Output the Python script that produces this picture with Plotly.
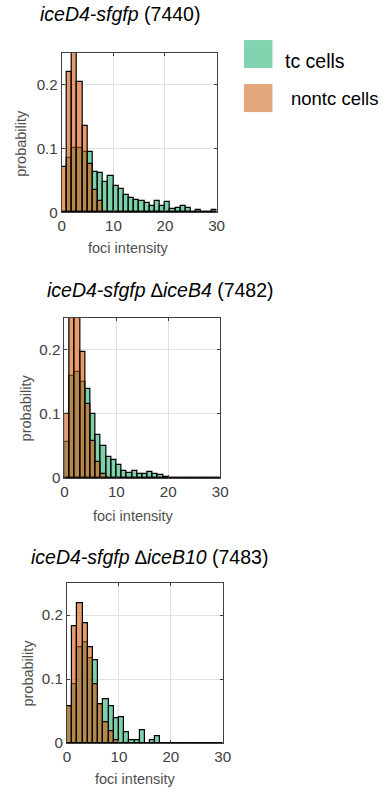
import plotly.graph_objects as go

# Histogram bins: width 1, from 0 to 30
bin_edges = list(range(0, 31))
bin_centers = [e + 0.5 for e in bin_edges[:-1]]

# Probability per bin, strain 7440
tc_7440 = [0.000, 0.085, 0.100, 0.100, 0.095, 0.094, 0.063, 0.061, 0.047, 0.056,
           0.041, 0.036, 0.027, 0.022, 0.019, 0.017, 0.014, 0.010, 0.017, 0.010,
           0.016, 0.005, 0.007, 0.009, 0.006, 0.000, 0.003, 0.000, 0.000, 0.003]
nontc_7440 = [0.071, 0.220, 0.255, 0.205, 0.135, 0.076, 0.034, 0.018, 0.000, 0.000,
              0.000, 0.000, 0.000, 0.000, 0.000, 0.000, 0.000, 0.000, 0.000, 0.000,
              0.000, 0.000, 0.000, 0.000, 0.000, 0.000, 0.000, 0.000, 0.000, 0.000]

# Probability per bin, strain 7482 (delta iceB4)
tc_7482 = [0.056, 0.160, 0.165, 0.150, 0.139, 0.099, 0.067, 0.049, 0.032, 0.027,
           0.020, 0.011, 0.007, 0.010, 0.006, 0.006, 0.009, 0.006, 0.004, 0.0015,
           0.000, 0.000, 0.000, 0.000, 0.000, 0.000, 0.000, 0.000, 0.000, 0.000]
nontc_7482 = [0.099, 0.255, 0.258, 0.197, 0.115, 0.058, 0.025, 0.006, 0.000, 0.000,
              0.000, 0.000, 0.000, 0.000, 0.000, 0.000, 0.000, 0.000, 0.000, 0.000,
              0.000, 0.000, 0.000, 0.000, 0.000, 0.000, 0.000, 0.000, 0.000, 0.000]

# Probability per bin, strain 7483 (delta iceB10)
tc_7483 = [0.057, 0.092, 0.150, 0.158, 0.132, 0.130, 0.060, 0.068, 0.058, 0.039,
           0.041, 0.017, 0.004, 0.004, 0.020, 0.000, 0.004, 0.010, 0.000, 0.000,
           0.000, 0.000, 0.000, 0.000, 0.000, 0.000, 0.000, 0.000, 0.000, 0.000]
nontc_7483 = [0.057, 0.182, 0.219, 0.187, 0.150, 0.092, 0.060, 0.032, 0.019, 0.005,
              0.000, 0.000, 0.000, 0.000, 0.000, 0.000, 0.000, 0.000, 0.000, 0.000,
              0.000, 0.000, 0.000, 0.000, 0.000, 0.000, 0.000, 0.000, 0.000, 0.000]

panel_titles = [
    "<i>iceD4-sfgfp</i> (7440)",
    "<i>iceD4-sfgfp \u2206iceB4</i> (7482)",
    "<i>iceD4-sfgfp \u2206iceB10</i> (7483)",
]
series_names = ["tc cells", "nontc cells"]
x_ticks = [0, 10, 20, 30]
y_ticks = [0, 0.1, 0.2]
y_tick_labels = ["0", "0.1", "0.2"]
x_title = "foci intensity"
y_title = "probability"

TC_FILL = "rgba(38,177,113,0.6)"
NONTC_FILL = "rgba(213,88,13,0.6)"
TC_KEY = "rgb(128,212,176)"
NONTC_KEY = "rgb(227,166,124)"

# page scale: layout pixels per design pixel
PX = 1.011
W, H = round(383 * PX), round(789 * PX)
FONT = "Liberation Sans, Arial, sans-serif"

# axes boxes in design pixels: (left, right, top, bottom)
boxes = [(59, 217, 53, 212), (61.7, 220.7, 317.7, 477.3), (64.3, 223.3, 582.7, 742.3)]
title_pos = [(118.5, 13.5), (159.7, 290), (148.5, 556.7)]
xtitle_pos = [(127, 248), (131.7, 516), (134.5, 778)]
ytitle_pos = [(17, 143), (22.5, 408), (25, 672.5)]
data = [(tc_7440, nontc_7440), (tc_7482, nontc_7482), (tc_7483, nontc_7483)]


def px_x(v):
    return v * PX / W


def px_y(v):
    return 1 - v * PX / H


fig = go.Figure()
layout = dict(
    width=W, height=H, margin=dict(l=0, r=0, t=0, b=0),
    paper_bgcolor="white", plot_bgcolor="white",
    barmode="overlay", bargap=0, showlegend=False,
    font=dict(family=FONT, color="#404040"),
    annotations=[], shapes=[],
)

for i, ((tc, nontc), (l, r, t, b)) in enumerate(zip(data, boxes)):
    sfx = "" if i == 0 else str(i + 1)
    xa, ya = "x" + sfx, "y" + sfx
    for vals, fill, name in ((tc, TC_FILL, series_names[0]), (nontc, NONTC_FILL, series_names[1])):
        fig.add_trace(go.Bar(
            x=bin_centers, y=vals, width=1, name=name, xaxis=xa, yaxis=ya,
            marker=dict(color=fill, line=dict(color="black", width=1.2)),
            hoverinfo="skip",
        ))
    axis_common = dict(
        showline=True, linecolor="#404040", linewidth=1, mirror="ticks",
        ticks="inside", ticklen=3, tickcolor="#404040",
        showgrid=True, gridcolor="#e0e0e0", gridwidth=1, zeroline=False,
        tickfont=dict(size=15.2, color="#404040", family=FONT),
    )
    layout["xaxis" + sfx] = dict(
        axis_common, domain=[px_x(l), px_x(r)], range=[0, 30], tickvals=x_ticks,
        anchor=ya,
    )
    layout["yaxis" + sfx] = dict(
        axis_common, domain=[px_y(b), px_y(t)], range=[0, 0.25],
        tickvals=y_ticks, ticktext=y_tick_labels, anchor=xa,
    )
    tx, ty = title_pos[i]
    layout["annotations"].append(dict(
        text=panel_titles[i], x=px_x(tx), y=px_y(ty), xref="paper", yref="paper",
        xanchor="center", yanchor="middle", showarrow=False,
        font=dict(size=19.5, color="black", family=FONT),
    ))
    tx, ty = xtitle_pos[i]
    layout["annotations"].append(dict(
        text=x_title, x=px_x(tx), y=px_y(ty), xref="paper", yref="paper",
        xanchor="center", yanchor="middle", showarrow=False,
        font=dict(size=14.5, color="#505050", family=FONT),
    ))
    tx, ty = ytitle_pos[i]
    layout["annotations"].append(dict(
        text=y_title, x=px_x(tx), y=px_y(ty), xref="paper", yref="paper", textangle=-90,
        xanchor="center", yanchor="middle", showarrow=False,
        font=dict(size=14.5, color="#505050", family=FONT),
    ))

# legend: colour swatches with labels
# (fill, label, swatch top, swatch bottom, label left, label middle, label size)
legend_rows = [(TC_KEY, series_names[0], 40, 68, 285, 61, 19.5),
               (NONTC_KEY, series_names[1], 84, 112, 291, 98, 18.5)]
for fill, name, y0, y1, lx, ly, size in legend_rows:
    layout["shapes"].append(dict(
        type="rect", xref="paper", yref="paper",
        x0=px_x(245), x1=px_x(274), y0=px_y(y1), y1=px_y(y0),
        fillcolor=fill, line=dict(width=0),
    ))
    layout["annotations"].append(dict(
        text=name, x=px_x(lx), y=px_y(ly), xref="paper", yref="paper",
        xanchor="left", yanchor="middle", showarrow=False,
        font=dict(size=size, color="black", family=FONT),
    ))

fig.update_layout(**layout)
fig.write_html(
    "out.html",
    post_script="document.body.style.margin='0';document.body.style.overflow='hidden';",
)
